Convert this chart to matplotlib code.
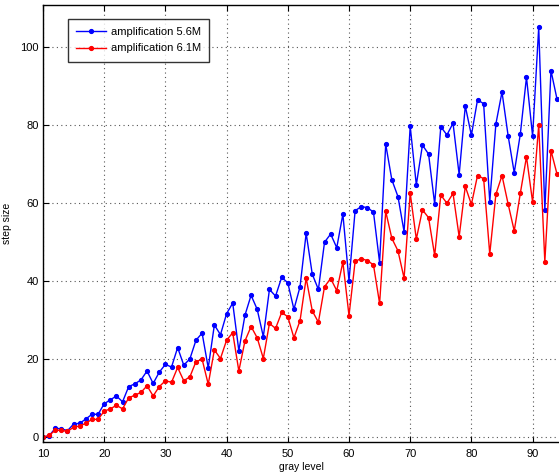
import matplotlib
matplotlib.use("Agg")
import matplotlib.pyplot as plt

plt.rcParams['font.family'] = ['Liberation Sans', 'DejaVu Sans']

gray_level = list(range(10, 95))

step_5_6M = [
    0.0, 0.4, 2.3, 2.2, 1.7, 3.4, 3.6, 4.7, 5.9, 5.9,
    8.6, 9.6, 10.6, 9.1, 13.0, 13.7, 14.7, 17.0, 13.8, 16.7,
    18.7, 18.0, 23.0, 18.5, 20.1, 24.9, 26.7, 17.8, 28.8, 26.3,
    31.7, 34.4, 22.2, 31.3, 36.4, 32.8, 25.8, 37.9, 36.2, 41.0,
    39.6, 32.8, 38.6, 52.3, 41.8, 37.9, 50.0, 52.1, 48.6, 57.2,
    40.1, 58.1, 59.1, 58.9, 57.7, 44.8, 75.1, 66.0, 61.7, 52.7,
    79.7, 64.7, 74.9, 72.6, 59.8, 79.6, 77.5, 80.5, 67.3, 84.9,
    77.4, 86.5, 85.5, 60.4, 80.3, 88.5, 77.3, 67.8, 77.8, 92.3,
    77.2, 105.1, 58.2, 94.0, 86.6,
]

step_6_1M = [
    0.0, 0.5, 1.8, 1.8, 1.5, 2.6, 2.9, 3.6, 4.6, 4.6,
    6.7, 7.3, 8.2, 7.3, 10.1, 10.8, 11.5, 13.2, 10.6, 13.0,
    14.5, 14.1, 17.9, 14.5, 15.5, 19.4, 20.0, 13.6, 22.4, 20.2,
    24.9, 26.8, 17.0, 24.7, 28.4, 25.5, 20.2, 29.2, 27.9, 32.0,
    30.9, 25.5, 29.9, 40.8, 32.4, 29.5, 38.6, 40.7, 37.6, 44.9,
    31.2, 45.1, 45.8, 45.3, 44.2, 34.3, 57.9, 51.0, 47.8, 40.8,
    62.6, 50.8, 58.3, 56.3, 46.6, 62.1, 60.0, 62.5, 51.4, 64.3,
    59.7, 67.1, 66.3, 47.0, 62.3, 67.1, 59.8, 52.9, 62.6, 71.9,
    60.3, 80.0, 45.0, 73.5, 67.4,
]

x_ticks = [10, 20, 30, 40, 50, 60, 70, 80, 90]
y_ticks = [0, 20, 40, 60, 80, 100]

W, H = 559, 475
fig = plt.figure(figsize=(W / 100, H / 100), dpi=100)
left, right, top, bottom = 43, 559, 5, 442
ax = fig.add_axes([left / W, 1 - bottom / H, (right - left) / W, (bottom - top) / H])

ax.plot(gray_level, step_5_6M, color=(0, 0, 1), lw=1.0, marker='.', ms=5.5,
        label='amplification 5.6M')
ax.plot(gray_level, step_6_1M, color=(1, 0, 0), lw=1.0, marker='.', ms=5.5,
        label='amplification 6.1M')

ax.set_xlim(10, 10 + (right - left) / 6.12)
ax.set_ylim(-1.2, 110.8)
ax.set_xticks(x_ticks)
ax.set_yticks(y_ticks)
ax.tick_params(direction='in', length=4, width=0.8, labelsize=8,
               top=True, right=False)
ax.tick_params(axis='x', pad=5)
ax.tick_params(axis='y', pad=3)
ax.grid(True, linestyle=(0, (1, 3)), color='#555555', lw=0.8)
ax.spines['right'].set_visible(False)
for s in ('left', 'top', 'bottom'):
    ax.spines[s].set_linewidth(1.0)

ax.set_xlabel('gray level', fontsize=7.5, labelpad=2)
ax.set_ylabel('step size', fontsize=7.5, labelpad=6)

leg = ax.legend(loc='upper left', bbox_to_anchor=(25 / (right - left), 1 - 14 / (bottom - top)),
                fontsize=8, frameon=True, fancybox=False, edgecolor='black',
                borderpad=0.75, handlelength=2.7, handletextpad=0.4,
                labelspacing=0.55, borderaxespad=0)
leg.get_frame().set_linewidth(1.0)

fig.savefig('out.png', dpi=100)
